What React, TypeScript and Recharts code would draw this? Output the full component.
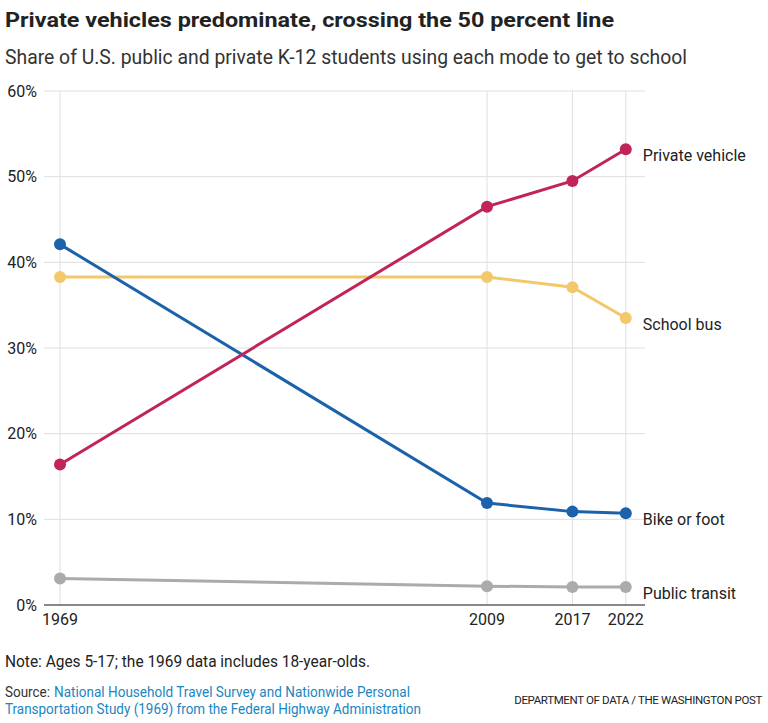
import React from 'react';
import { LineChart, Line, XAxis, YAxis, CartesianGrid, ReferenceLine } from 'recharts';

const years = [1969, 2009, 2017, 2022];
const privateVehicle = [16.4, 46.5, 49.5, 53.2];
const schoolBus = [38.3, 38.3, 37.1, 33.5];
const bikeOrFoot = [42.1, 11.9, 10.9, 10.7];
const publicTransit = [3.1, 2.2, 2.1, 2.1];
const yTicks = [0, 10, 20, 30, 40, 50, 60];

const series = [
  { key: 'transit', name: 'Public transit', values: publicTransit, color: '#ababab' },
  { key: 'bus', name: 'School bus', values: schoolBus, color: '#f3c86a' },
  { key: 'bike', name: 'Bike or foot', values: bikeOrFoot, color: '#1c62ab' },
  { key: 'car', name: 'Private vehicle', values: privateVehicle, color: '#c1245a' },
];

const data = years.map((year, i) => {
  const row: Record<string, number> = { year };
  series.forEach((s) => {
    row[s.key] = s.values[i];
  });
  return row;
});

const FONT = 'Roboto, "Liberation Sans", Arial, sans-serif';

const endLabel = (name: string) => (props: any) => {
  const { x, y, index } = props;
  if (index !== years.length - 1) return null;
  return (
    <text x={x + 17} y={y + 6} dy="0.36em" fontFamily={FONT} fontSize={16} fill="#222">
      {name}
    </text>
  );
};

export default function App() {
  return (
    <div style={{ position: 'absolute', left: 0, top: 0, width: 768, height: 723, background: '#fff' }}>
      <div style={{ position: 'absolute', left: 0, top: 0 }}>
        <LineChart width={768} height={640} data={data} margin={{ top: 91, right: 123, bottom: 5, left: 0 }}>
          <CartesianGrid stroke="#dedede" strokeWidth={1} vertical={false} />
          {years.map((yr) => (
            <ReferenceLine key={yr} x={yr} stroke="#dedede" strokeWidth={1} />
          ))}
          <XAxis
            dataKey="year"
            type="number"
            domain={[1967.5, 2023.8]}
            ticks={years}
            tickLine={false}
            axisLine={{ stroke: '#222', strokeWidth: 1 }}
            tick={{ fill: '#222', fontSize: 16, fontFamily: FONT }}
            tickMargin={3}
            height={30}
          />
          <YAxis
            type="number"
            domain={[0, 60]}
            ticks={yTicks}
            width={44}
            tickLine={false}
            axisLine={false}
            tickFormatter={(v) => `${v}%`}
            tick={{ fill: '#222', fontSize: 16, fontFamily: FONT }}
            tickMargin={1}
          />
          {series.map((s) => (
            <Line
              key={s.key}
              dataKey={s.key}
              name={s.name}
              stroke={s.color}
              strokeWidth={3}
              dot={{ r: 6, fill: s.color, stroke: s.color, strokeWidth: 0 }}
              activeDot={false}
              isAnimationActive={false}
              label={endLabel(s.name)}
            />
          ))}
        </LineChart>
      </div>

      <svg width={768} height={723} style={{ position: 'absolute', left: 0, top: 0, pointerEvents: 'none' }} fontFamily={FONT}>
        <text x={5} y={27} fontSize={20} fontWeight={700} fill="#222" textLength={609} lengthAdjust="spacingAndGlyphs">
          Private vehicles predominate, crossing the 50 percent line
        </text>
        <text x={5} y={64} fontSize={19.5} fill="#333" textLength={682} lengthAdjust="spacingAndGlyphs">
          Share of U.S. public and private K-12 students using each mode to get to school
        </text>
        <text x={5} y={667} fontSize={16} fill="#222" textLength={365} lengthAdjust="spacingAndGlyphs">
          Note: Ages 5-17; the 1969 data includes 18-year-olds.
        </text>
        <text x={5} y={697} fontSize={14} fill="#333" textLength={45} lengthAdjust="spacingAndGlyphs">
          Source:
        </text>
        <text x={54} y={697} fontSize={14} fill="#1a86c2" textLength={356} lengthAdjust="spacingAndGlyphs">
          National Household Travel Survey and Nationwide Personal
        </text>
        <text x={5} y={713.5} fontSize={14} fill="#1a86c2" textLength={416} lengthAdjust="spacingAndGlyphs">
          Transportation Study (1969) from the Federal Highway Administration
        </text>
        <text x={762} y={704} textAnchor="end" fontSize={11.5} letterSpacing={-0.35} fill="#222">
          DEPARTMENT OF DATA / THE WASHINGTON POST
        </text>
      </svg>
    </div>
  );
}
